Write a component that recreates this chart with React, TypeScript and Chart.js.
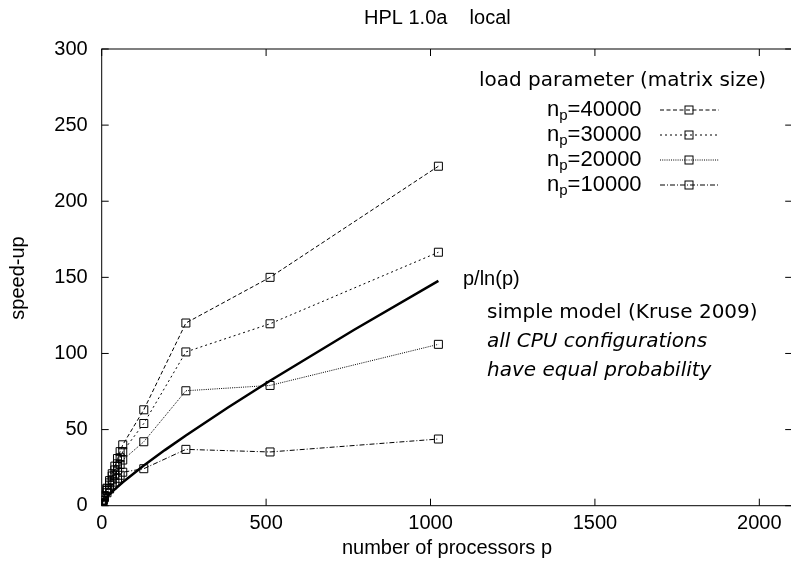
import React, { useEffect, useRef } from "react";
import { Chart, registerables } from "chart.js";

Chart.register(...registerables);

// ---- data ----
const processors = [1, 2, 4, 8, 16, 24, 32, 40, 48, 56, 64, 128, 256, 512, 1024];
const speedup40000 = [1, 1.9, 3.7, 6.6, 11.5, 16.5, 21, 26, 31, 35.5, 40, 63, 120, 150, 223];
const speedup30000 = [1, 1.9, 3.6, 6.3, 11, 15, 19.5, 23.5, 27.5, 31.5, 35.5, 54, 101, 119.5, 166.5];
const speedup20000 = [1, 1.8, 3.4, 5.9, 10, 13.5, 17, 20, 23.5, 27, 30, 42, 75.5, 79, 106];
const speedup10000 = [1, 1.7, 3.1, 5.2, 8.5, 11, 13.5, 15.5, 18, 20, 22, 24.3, 37, 35.3, 43.8];

const modelP = [12, 16, 32, 64, 128, 192, 256, 384, 512, 768, 1024];
const modelSpeedup = [4.83, 5.77, 9.23, 15.39, 26.38, 36.52, 46.17, 64.53, 82.07, 115.6, 147.7];

const xTickValues = [0, 500, 1000, 1500, 2000];
const yTickValues = [0, 50, 100, 150, 200, 250, 300];

const seriesLabels = ["40000", "30000", "20000", "10000"];
const seriesDashes = [[4, 2.5], [2, 3], [1, 1.2], [5, 2, 1, 2]];

const NARROW = "'Liberation Sans Narrow', 'Liberation Sans', Arial, sans-serif";
const SANS = "'Liberation Sans', Arial, sans-serif";
const DEJAVU = "'DejaVu Sans', sans-serif";

const toXY = (xs: number[], ys: number[]) => xs.map((v, i) => ({ x: v, y: ys[i] }));

function drawBox(ctx: CanvasRenderingContext2D, cx: number, cy: number) {
  ctx.save();
  ctx.setLineDash([]);
  ctx.lineWidth = 1;
  ctx.strokeStyle = "#000";
  ctx.strokeRect(cx - 4, cy - 4, 8, 8);
  ctx.restore();
}

const decor = {
  id: "gnuplotDecor",
  afterDraw(chart: any) {
    const { ctx, chartArea: a, scales } = chart;
    const xs = scales.x;
    const ys = scales.y;
    ctx.save();
    ctx.strokeStyle = "#000";
    ctx.fillStyle = "#000";
    ctx.lineWidth = 1;
    ctx.setLineDash([]);
    ctx.strokeRect(a.left, a.top, a.right - a.left, a.bottom - a.top);
    const tl = 7;
    ctx.beginPath();
    xTickValues.forEach((v) => {
      const px = xs.getPixelForValue(v);
      ctx.moveTo(px, a.bottom);
      ctx.lineTo(px, a.bottom - tl);
      ctx.moveTo(px, a.top);
      ctx.lineTo(px, a.top + tl);
    });
    yTickValues.forEach((v) => {
      const py = ys.getPixelForValue(v);
      ctx.moveTo(a.left, py);
      ctx.lineTo(a.left + tl, py);
      ctx.moveTo(a.right, py);
      ctx.lineTo(a.right - tl, py);
    });
    ctx.stroke();

    // title
    ctx.textBaseline = "middle";
    ctx.textAlign = "left";
    ctx.font = `20px ${NARROW}`;
    ctx.fillText("HPL 1.0a    local", 364, 18);
    // axis titles
    ctx.textAlign = "center";
    ctx.fillText("number of processors p", 447, 548);
    ctx.save();
    ctx.translate(18, 278);
    ctx.rotate(-Math.PI / 2);
    ctx.fillText("speed-up", 0, 0);
    ctx.restore();

    // legend
    ctx.textAlign = "left";
    ctx.font = `20px ${DEJAVU}`;
    ctx.fillText("load parameter (matrix size)", 479, 81);
    seriesLabels.forEach((lab, i) => {
      const ty = 110 + i * 25;
      let tx = 547;
      ctx.font = `22px ${SANS}`;
      ctx.fillText("n", tx, ty);
      tx += ctx.measureText("n").width;
      ctx.font = `15px ${SANS}`;
      ctx.fillText("p", tx, ty + 6);
      tx += ctx.measureText("p").width;
      ctx.font = `22px ${SANS}`;
      ctx.fillText("=" + lab, tx, ty);
      ctx.save();
      ctx.lineWidth = 1;
      ctx.setLineDash(seriesDashes[i]);
      ctx.beginPath();
      ctx.moveTo(660, ty);
      ctx.lineTo(719, ty);
      ctx.stroke();
      ctx.restore();
      drawBox(ctx, 689, ty);
    });

    // annotation
    ctx.font = `20px ${SANS}`;
    ctx.fillText("p/ln(p)", 463, 279);
    ctx.font = `20px ${DEJAVU}`;
    ctx.fillText("simple model (Kruse 2009)", 487, 313);
    ctx.font = `italic 20px ${DEJAVU}`;
    ctx.fillText("all CPU configurations", 487, 342);
    ctx.fillText("have equal probability", 487, 371);
    ctx.restore();
  },
};

export default function App() {
  const ref = useRef<HTMLCanvasElement>(null);
  useEffect(() => {
    const canvas = ref.current!;
    const seriesData = [speedup40000, speedup30000, speedup20000, speedup10000];
    const datasets: any[] = seriesData.map((ys, i) => ({
      label: "n_p=" + seriesLabels[i],
      data: toXY(processors, ys),
      borderColor: "#000",
      borderWidth: 1,
      borderDash: seriesDashes[i],
      pointStyle: "rect",
      pointRadius: 5.66,
      pointBorderWidth: 1,
      pointBorderColor: "#000",
      pointBackgroundColor: "rgba(0,0,0,0)",
      fill: false,
      tension: 0,
    }));
    datasets.push({
      label: "p/ln(p)",
      data: toXY(modelP, modelSpeedup),
      borderColor: "#000",
      borderWidth: 2.5,
      pointRadius: 0,
      fill: false,
      tension: 0,
    });
    const chart = new Chart(canvas, {
      type: "line",
      data: { datasets },
      options: {
        responsive: false,
        animation: false,
        devicePixelRatio: 1,
        layout: { padding: { top: 49, right: 7.8, left: 0, bottom: 0 } },
        plugins: { legend: { display: false }, tooltip: { enabled: false }, title: { display: false } },
        scales: {
          x: {
            type: "linear",
            min: 0,
            max: 2100,
            grid: { display: false, drawTicks: false },
            border: { display: false },
            ticks: {
              color: "#000",
              font: { family: NARROW, size: 20 },
              padding: 6,
              maxRotation: 0,
              callback: (v: any) => String(v),
            },
            afterBuildTicks: (s: any) => {
              s.ticks = xTickValues.map((v) => ({ value: v }));
            },
            afterFit: (s: any) => {
              s.height = 568 - 505.7;
            },
          },
          y: {
            type: "linear",
            min: 0,
            max: 300,
            grid: { display: false, drawTicks: false },
            border: { display: false },
            ticks: {
              color: "#000",
              font: { family: NARROW, size: 20 },
              padding: 14,
              callback: (v: any) => String(v),
            },
            afterBuildTicks: (s: any) => {
              s.ticks = yTickValues.map((v) => ({ value: v }));
            },
            afterFit: (s: any) => {
              s.width = 101.7;
            },
          },
        },
      } as any,
      plugins: [decor],
    });
    return () => chart.destroy();
  }, []);
  return (
    <div style={{ position: "fixed", left: 0, top: 0, width: 791, height: 568, overflow: "hidden", background: "#fff" }}>
      <canvas ref={ref} width={800} height={568} style={{ display: "block", width: 800, height: 568 }} />
    </div>
  );
}
